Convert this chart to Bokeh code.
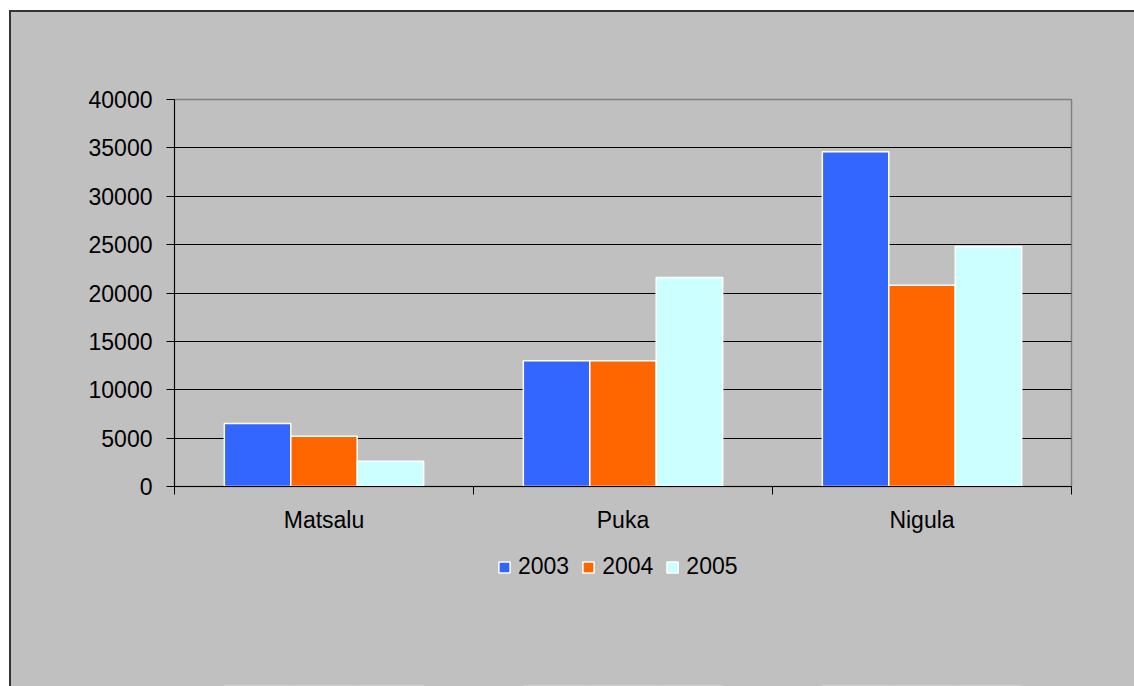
from bokeh.plotting import figure
from bokeh.layouts import column
from bokeh.models import (Range1d, LinearAxis, FixedTicker, ColumnDataSource, Legend, LegendItem,
                          NumeralTickFormatter)
from bokeh.embed import file_html
from bokeh.resources import INLINE

categories = ["Matsalu", "Puka", "Nigula"]
years = ["2003", "2004", "2005"]
v2003 = [6500, 13000, 34600]
v2004 = [5200, 13000, 20800]
v2005 = [2600, 21600, 24800]
y_ticks = [0, 5000, 10000, 15000, 20000, 25000, 30000, 35000, 40000]
colors = ["#3366FF", "#FF6600", "#CCFFFF"]
series = [v2003, v2004, v2005]

FONT = "Liberation Sans"
FS = "23px"
BG = "#C0C0C0"

n = len(categories)
centers = [i + 0.5 for i in range(n)]

p = figure(x_range=Range1d(0, n), y_range=Range1d(0, 40000),
           frame_width=897, frame_height=387,
           min_border_left=163, min_border_right=63, min_border_top=87, min_border_bottom=60,
           x_axis_location=None, y_axis_location=None,
           output_backend="svg", toolbar_location=None,
           background_fill_color=BG, border_fill_color=BG)
p.outline_line_color = "#808080"
p.outline_line_width = 1.5

# y axis
yax = LinearAxis(ticker=FixedTicker(ticks=y_ticks), formatter=NumeralTickFormatter(format="0"))
yax.axis_line_color = "black"
yax.major_tick_line_color = "black"
yax.major_tick_out = 8
yax.major_tick_in = 0
yax.minor_tick_line_color = None
yax.major_label_text_font = FONT
yax.major_label_text_font_size = FS
yax.major_label_text_color = "black"
yax.major_label_standoff = 14
p.add_layout(yax, "left")

# boundary ticks axis
bounds = list(range(n + 1))
bax = LinearAxis(ticker=FixedTicker(ticks=bounds))
bax.major_label_overrides = {b: "" for b in bounds}
bax.major_label_text_font_size = "0px"
bax.major_label_standoff = 0
bax.axis_line_color = "black"
bax.major_tick_line_color = "black"
bax.major_tick_out = 8
bax.major_tick_in = 0
bax.minor_tick_line_color = None
p.add_layout(bax, "below")

# category label axis
cax = LinearAxis(ticker=FixedTicker(ticks=centers))
cax.major_label_overrides = {c: name for c, name in zip(centers, categories)}
cax.axis_line_color = None
cax.major_tick_line_color = None
cax.minor_tick_line_color = None
cax.major_tick_out = 0
cax.major_tick_in = 0
cax.major_label_text_font = FONT
cax.major_label_text_font_size = FS
cax.major_label_text_color = "black"
cax.major_label_standoff = 12
p.add_layout(cax, "below")

p.xgrid.grid_line_color = None
p.ygrid.grid_line_color = "black"
p.ygrid.grid_line_width = 1
p.ygrid.ticker = FixedTicker(ticks=y_ticks)

bw = 1.0 / 4.5
for i, (vals, col) in enumerate(zip(series, colors)):
    src = ColumnDataSource(dict(x=[c + (i - 1) * bw for c in centers], top=vals))
    p.vbar(x="x", top="top", width=bw, source=src,
           fill_color=col, line_color="white", line_width=1.5)

# legend strip (its frame lines up with the chart frame above);
# its y range lies far above the data so the proxy bars stay out of view
p2 = figure(x_range=Range1d(0, n), y_range=Range1d(100000, 200000), width=1123, height=140,
            min_border_left=0, min_border_right=0, min_border_top=0, min_border_bottom=0,
            x_axis_location=None, y_axis_location=None,
            output_backend="svg", toolbar_location=None,
            background_fill_color=BG, border_fill_color=BG)
p2.outline_line_color = None
p2.grid.grid_line_color = None
leg_r = []
for i, (vals, col) in enumerate(zip(series, colors)):
    src2 = ColumnDataSource(dict(x=[c + (i - 1) * bw for c in centers], top=vals))
    leg_r.append(p2.vbar(x="x", top="top", width=bw, source=src2,
                         fill_color=col, line_color="white", line_width=1.5))

legend = Legend(items=[LegendItem(label=yr, renderers=[r]) for yr, r in zip(years, leg_r)],
                orientation="horizontal", location=(323, 106))
legend.background_fill_alpha = 0
legend.border_line_color = None
legend.label_text_font = FONT
legend.label_text_font_size = FS
legend.label_text_color = "black"
legend.glyph_width = 14
legend.glyph_height = 14
legend.label_standoff = 7
legend.spacing = 12
legend.padding = 0
legend.margin = 0
p2.add_layout(legend, "center")

layout = column(p, p2, spacing=0,
                styles={"margin-left": "9px", "margin-top": "10px", "background-color": BG,
                        "border-left": "2px solid #333333", "border-top": "2px solid #333333"})

open("out.html", "w").write(file_html(layout, INLINE))
